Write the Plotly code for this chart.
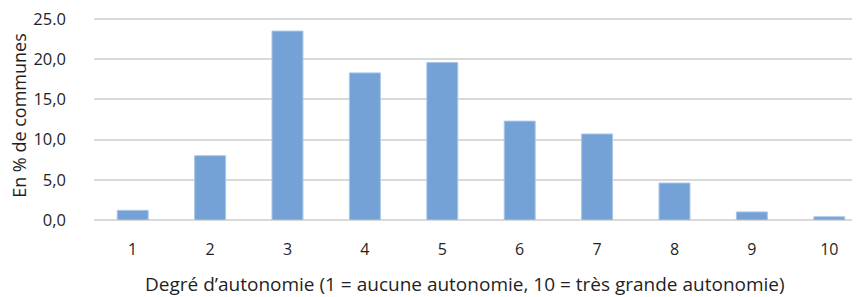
import plotly.graph_objects as go

categories = ["1", "2", "3", "4", "5", "6", "7", "8", "9", "10"]
values = [1.2, 8.0, 23.5, 18.3, 19.6, 12.3, 10.7, 4.6, 1.0, 0.4]
y_tick_vals = [0, 5, 10, 15, 20, 25]
y_tick_text = ["0,0", "5,0", "10,0", "15,0", "20,0", "25.0"]
x_title = "Degré d’autonomie (1 = aucune autonomie, 10 = très grande autonomie)"
y_title = "En % de communes"

font_family = "Open Sans, Liberation Sans, sans-serif"
text_color = "#1F1F1F"

W, H = 860, 297
ML, MR, MT, MB = 86, 0, 7, 84.7

fig = go.Figure(
    go.Bar(
        x=categories,
        y=values,
        marker=dict(color="#74A2D6", line=dict(color="#A9C6E8", width=1)),
    )
)

fig.update_layout(
    width=W,
    height=H,
    margin=dict(l=ML, r=MR, t=MT, b=MB),
    plot_bgcolor="white",
    paper_bgcolor="white",
    bargap=0.6,
    showlegend=False,
    font=dict(family=font_family, color=text_color, size=16),
)

fig.update_xaxes(
    type="category",
    range=[-0.5, 9.5],
    automargin=False,
    showgrid=False,
    showline=False,
    ticks="outside",
    ticklen=15,
    tickcolor="rgba(0,0,0,0)",
    tickfont=dict(size=16, color=text_color),
)

fig.update_yaxes(
    range=[0, 25.5],
    automargin=False,
    tickvals=y_tick_vals,
    ticktext=y_tick_text,
    ticklabeloverflow="allow",
    showgrid=True,
    gridcolor="#D9D9D9",
    gridwidth=1.5,
    zeroline=True,
    zerolinecolor="#D9D9D9",
    zerolinewidth=1.5,
    showline=False,
    ticks="",
    ticklabelstandoff=27,
    tickfont=dict(size=16.5, color=text_color),
)

plot_w = W - ML - MR
plot_h = H - MT - MB

# x-axis title
fig.add_annotation(
    text=x_title,
    xref="paper", yref="paper",
    x=(457 - ML) / plot_w,
    y=-(276.5 - (H - MB)) / plot_h,
    xanchor="center", yanchor="middle",
    showarrow=False,
    font=dict(size=19, color=text_color, family=font_family),
)

# y-axis title
fig.add_annotation(
    text=y_title,
    xref="paper", yref="paper",
    x=-(ML - 11) / plot_w,
    y=((H - MB) - 108) / plot_h,
    xanchor="center", yanchor="middle",
    textangle=-90,
    showarrow=False,
    font=dict(size=18, color=text_color, family=font_family),
)

fig.write_html("out.html")
